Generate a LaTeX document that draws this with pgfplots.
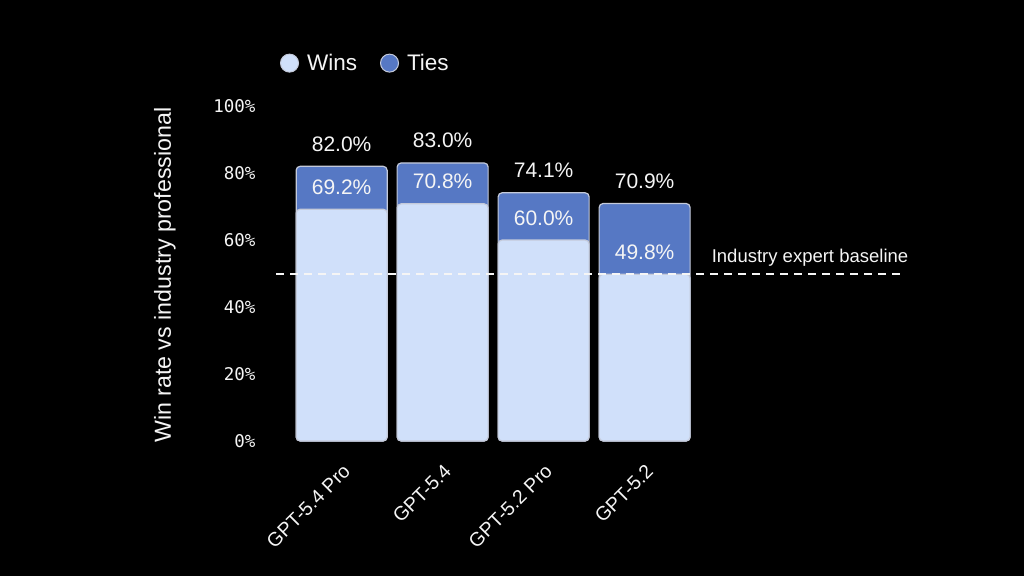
\documentclass[border=0pt]{standalone}
\usepackage{pgfplots}
\pgfplotsset{compat=1.18}
\usepackage{pgfplotstable}
\usepackage{fontspec}
\setmainfont{Liberation Sans}
\newfontfamily\tickfont{DejaVu Sans Mono}
\definecolor{winsc}{RGB}{208,224,250}
\definecolor{tiesc}{RGB}{86,120,196}
\definecolor{edgec}{RGB}{196,202,218}
\definecolor{txt}{RGB}{245,245,245}

\pgfplotstableread{
x wins total
0 69.2 82.0
1 70.8 83.0
2 60.0 74.1
3 49.8 70.9
}\bardata

\begin{document}
\begin{tikzpicture}
\fill[black] (0,0) rectangle (1024pt,576pt);
\begin{axis}[
  at={(276pt,135pt)}, anchor=south west,
  scale only axis, width=629pt, height=335pt,
  xmin=-0.65, xmax=5.578, ymin=0, ymax=100,
  axis line style={draw=none},
  major tick length=0pt,
  /pgf/number format/assume math mode=true,
  xtick={0,1,2,3},
  xticklabels={GPT-5.4 Pro, GPT-5.4, GPT-5.2 Pro, GPT-5.2},
  xticklabel shift=17pt,
  xticklabel style={font=\fontsize{19.5}{22}\selectfont, text=txt, rotate=45, anchor=north east},
  ytick={0,20,40,60,80,100},
  yticklabels={0\%,20\%,40\%,60\%,80\%,100\%},
  yticklabel style={font=\tickfont\fontsize{17.5}{20}\selectfont, text=txt, xshift=-17pt},
  ylabel={Win rate vs industry professional},
  every axis y label/.style={at={(axis description cs:-0.1765,0.495)}, rotate=90, anchor=center, font=\fontsize{23.2}{26}\selectfont, text=txt},
  legend columns=2,
  legend style={at={(axis description cs:0.0064,1.128)}, anchor=west, draw=none, fill=none, text=txt, font=\fontsize{22.5}{26}\selectfont, inner sep=0pt, outer sep=0pt,
    /tikz/every even column/.append style={column sep=21pt},
    /tikz/every odd column/.append style={column sep=6pt}},
  clip=false,
]
\addlegendimage{legend image code/.code={\draw[fill=winsc, draw=edgec, line width=1pt] (0pt,0pt) circle (9pt);}}
\addlegendentry{Wins}
\addlegendimage{legend image code/.code={\draw[fill=tiesc, draw=edgec, line width=1pt] (0pt,0pt) circle (9pt);}}
\addlegendentry{Ties}

\addplot[ybar, bar width=91pt, bar shift=0pt, fill=tiesc, draw=edgec, line width=1.2pt, rounded corners=4pt, forget plot,
  point meta=explicit,
  nodes near coords={\pgfmathprintnumber[fixed,fixed zerofill,precision=1]{\pgfplotspointmeta}\%},
  nodes near coords style={anchor=base, yshift=15pt, text=txt, font=\fontsize{21}{24}\selectfont, rounded corners=0pt}]
  table[x=x, y=total, meta=total] {\bardata};
\addplot[ybar, bar width=91pt, bar shift=0pt, fill=winsc, draw=edgec, line width=1.2pt, rounded corners=4pt, forget plot,
  point meta=explicit,
  nodes near coords={\pgfmathprintnumber[fixed,fixed zerofill,precision=1]{\pgfplotspointmeta}\%},
  nodes near coords style={anchor=base, yshift=15pt, text=txt, font=\fontsize{21}{24}\selectfont, rounded corners=0pt}]
  table[x=x, y=wins, meta=wins] {\bardata};

\addplot[txt, line width=2pt, dash pattern=on 8pt off 6pt, forget plot] coordinates {(-0.65,50) (5.578,50)};
\node[anchor=base west, text=txt, font=\fontsize{18.5}{22}\selectfont, inner sep=0pt, yshift=11pt] at (axis cs:3.663,50) {Industry expert baseline};
\end{axis}
\end{tikzpicture}
\end{document}
